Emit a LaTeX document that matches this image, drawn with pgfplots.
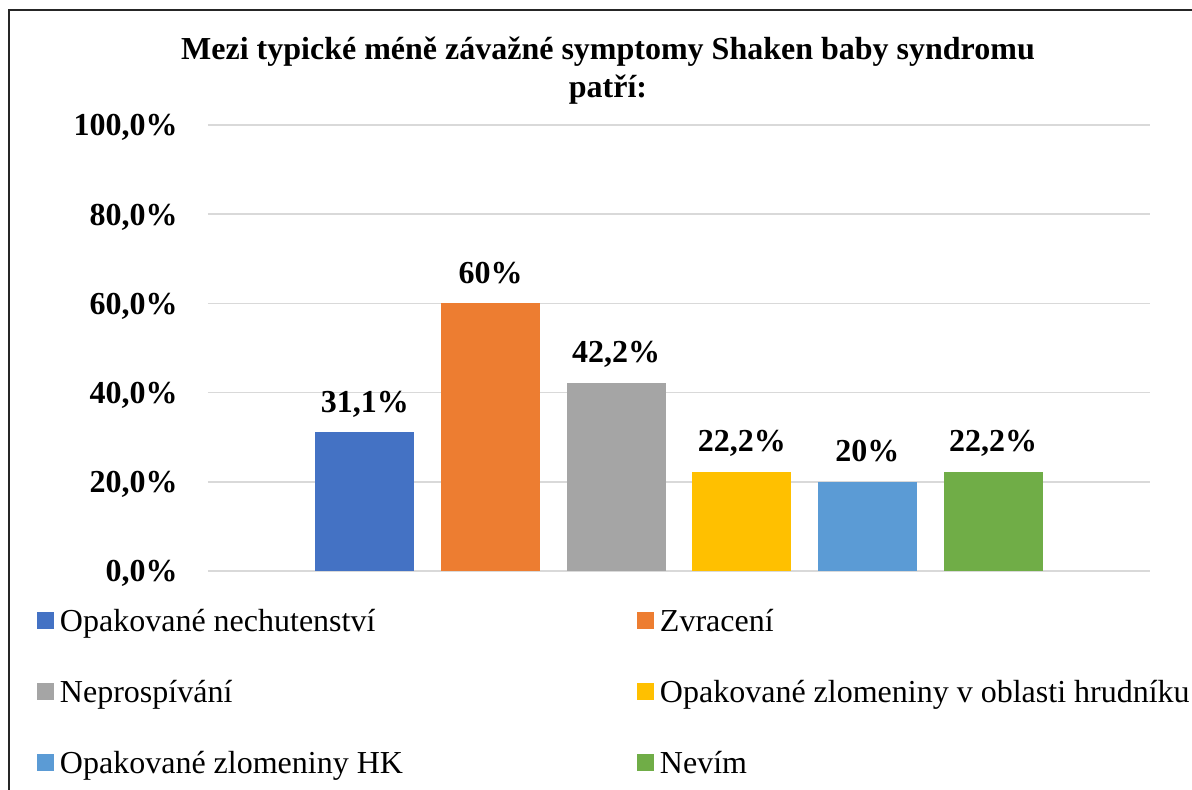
\documentclass[border=0pt]{standalone}
\usepackage{fontspec}
\setmainfont{Liberation Serif}
\usepackage{pgfplots}
\pgfplotsset{compat=1.18}
\definecolor{cblue}{HTML}{4472C4}
\definecolor{corange}{HTML}{ED7D31}
\definecolor{cgray}{HTML}{A5A5A5}
\definecolor{cyellow}{HTML}{FFC000}
\definecolor{clblue}{HTML}{5B9BD5}
\definecolor{cgreen}{HTML}{70AD47}
\definecolor{gridgray}{HTML}{D9D9D9}
\newcommand{\lbl}{\fontsize{16}{19}\selectfont\bfseries}
\newcommand{\lgd}{\fontsize{16}{19}\selectfont}

\begin{document}
\begin{tikzpicture}
\path[use as bounding box] (-104pt,-109pt) rectangle (492pt,285.5pt);
\begin{axis}[
    scale only axis,
    width=471pt, height=223pt,
    xmin=-1.25, xmax=6.25,
    ymin=0, ymax=100,
    xtick=\empty,
    ytick={0,20,40,60,80,100},
    yticklabels={{0,0\%},{20,0\%},{40,0\%},{60,0\%},{80,0\%},{100,0\%}},
    yticklabel style={font=\lbl, anchor=base east, inner sep=0pt, xshift=-15pt, yshift=-5.4pt},
    ymajorgrids,
    grid style={draw=gridgray, line width=0.75pt},
    axis line style={draw=none},
    major tick length=0pt,
    ybar,
    bar width=49.5pt,
    every node near coord/.append style={font=\lbl, anchor=base, inner sep=0pt, yshift=10pt, text=black},
    sq/.style={legend image code/.code={\fill[##1] (0pt,1pt) rectangle (8.5pt,9.5pt);}},
    legend columns=2,
    legend style={draw=none, fill=none, inner sep=0pt, outer sep=0pt,
        at={(-0.18153,-0.08072)}, anchor=north west,
        font=\lgd,
        cells={anchor=base west},
        nodes={inner sep=0pt, text height=12pt, text depth=4pt},
        row sep=19.5pt,
        /tikz/every odd column/.append style={column sep=3pt},
        /tikz/every even column/.append style={column sep=0pt}},
]
\addplot[sq, fill=cblue, draw=none, bar shift=0pt, nodes near coords={31,1\%}] coordinates {(0,31.1)};
\addlegendentry{\makebox[288.5pt][l]{Opakované nechutenství}}
\addplot[sq, fill=corange, draw=none, bar shift=0pt, nodes near coords={60\%}] coordinates {(1,60)};
\addlegendentry{Zvracení}
\addplot[sq, fill=cgray, draw=none, bar shift=0pt, nodes near coords={42,2\%}] coordinates {(2,42.2)};
\addlegendentry{\makebox[288.5pt][l]{Neprospívání}}
\addplot[sq, fill=cyellow, draw=none, bar shift=0pt, nodes near coords={22,2\%}] coordinates {(3,22.2)};
\addlegendentry{Opakované zlomeniny v oblasti hrudníku}
\addplot[sq, fill=clblue, draw=none, bar shift=0pt, nodes near coords={20\%}] coordinates {(4,20)};
\addlegendentry{\makebox[288.5pt][l]{Opakované zlomeniny HK}}
\addplot[sq, fill=cgreen, draw=none, bar shift=0pt, nodes near coords={22,2\%}] coordinates {(5,22.2)};
\addlegendentry{Nevím}
\end{axis}
\node[anchor=base, font=\lbl] at (200pt,256pt) {Mezi typické méně závažné symptomy Shaken baby syndromu};
\node[anchor=base, font=\lbl] at (200pt,237pt) {patří:};
\draw[line width=0.75pt, black!85] (-99.5pt,-120pt) -- (-99.5pt,280.5pt) -- (500pt,280.5pt);
\end{tikzpicture}
\end{document}
